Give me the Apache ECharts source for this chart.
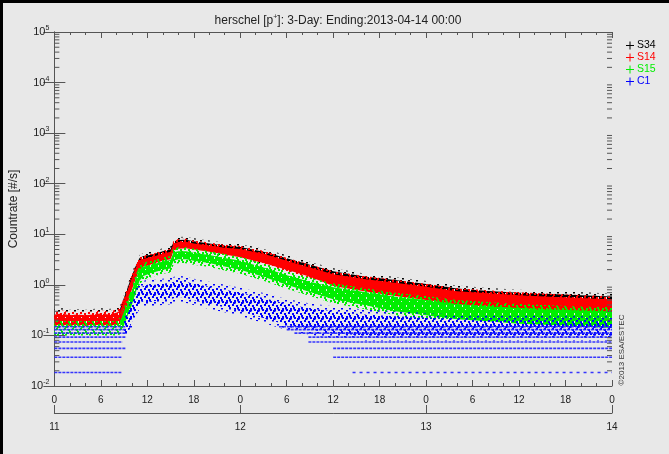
<!DOCTYPE html>
<html>
<head>
<meta charset="utf-8">
<script src="https://cdn.jsdelivr.net/npm/echarts@6/dist/echarts.min.js"></script>
<style>
html,body{margin:0;padding:0;background:#e8e8e8;}
#c{width:669px;height:454px;}
</style>
</head>
<body>
<div id="c"></div>
<script>
// ---- data (hours since 2013-04-11 00:00, count rates in #/s) ----
const hours = [0,1,2,3,4,5,6,7,8,8.5,9,9.5,10,10.5,11,11.5,12,13,14,15,15.4,16,17,18,20,22,24,27,30,33,36,40,44,48,52,56,60,64,68,72];
const s34Lo = [0.16,0.16,0.16,0.16,0.16,0.16,0.16,0.16,0.16,0.18,0.28,0.5,0.9,1.45,2.2,2.5,2.6,2.9,3.2,3.4,5.2,5.6,5.7,5.4,4.9,4.3,3.8,2.9,2.2,1.6,1.05,0.82,0.66,0.55,0.45,0.4,0.36,0.34,0.32,0.3];
const s34Hi = [0.29,0.30,0.28,0.29,0.28,0.29,0.30,0.29,0.30,0.34,0.56,0.92,1.5,2.35,3.4,3.7,3.8,4.1,4.6,5.0,7.2,7.7,7.8,7.3,6.6,6.0,5.6,4.5,3.35,2.5,1.85,1.47,1.25,1.04,0.85,0.76,0.7,0.66,0.62,0.59];
const s14Lo = [0.155,0.16,0.155,0.16,0.155,0.16,0.16,0.155,0.16,0.17,0.26,0.45,0.8,1.3,2.0,2.3,2.4,2.7,3.0,3.2,4.8,5.2,5.3,5.0,4.5,4.0,3.5,2.7,2.0,1.45,0.95,0.75,0.6,0.5,0.41,0.37,0.33,0.31,0.29,0.28];
const s14Hi = [0.26,0.27,0.25,0.26,0.25,0.26,0.27,0.26,0.28,0.31,0.5,0.83,1.37,2.15,3.1,3.3,3.4,3.7,4.1,4.5,6.6,7.0,7.1,6.6,6.0,5.4,5.1,4.1,3.0,2.2,1.62,1.3,1.1,0.92,0.75,0.68,0.62,0.58,0.55,0.52];
const s15Lo = [0.12,0.12,0.12,0.12,0.12,0.12,0.12,0.12,0.12,0.125,0.16,0.25,0.4,0.7,1.2,1.5,1.6,1.8,2.0,2.1,3.0,3.2,3.2,3.0,2.7,2.3,2.0,1.45,1.0,0.72,0.52,0.4,0.3,0.25,0.21,0.19,0.17,0.16,0.15,0.14];
const s15Hi = [0.16,0.16,0.16,0.16,0.16,0.16,0.16,0.16,0.16,0.19,0.3,0.45,0.75,1.3,2.0,2.3,2.4,2.6,2.9,3.1,4.4,4.6,4.6,4.3,3.9,3.4,3.0,2.2,1.55,1.15,0.9,0.72,0.58,0.5,0.42,0.38,0.35,0.33,0.31,0.3];
const c1Hours = [9,9.5,10,10.5,11,11.5,12,13,14,15,16,17,18,20,22,24,27,30,33,36,40,44,48,52,56,60,64,68,72];
const c1Lo = [0.1,0.12,0.18,0.3,0.42,0.48,0.45,0.48,0.5,0.52,0.58,0.55,0.5,0.42,0.36,0.3,0.22,0.16,0.13,0.11,0.1,0.1,0.1,0.1,0.1,0.1,0.1,0.1,0.1];
const c1Hi = [0.2,0.28,0.42,0.65,0.85,0.95,1.0,1.0,1.05,1.1,1.2,1.15,1.05,0.92,0.8,0.7,0.55,0.42,0.34,0.3,0.26,0.24,0.22,0.21,0.2,0.2,0.19,0.19,0.19];
// C1 quantised count levels (rows of points): value, start hour, end hour
const rowValue = [0.0185,0.037,0.0555,0.074,0.0925,0.111,0.13,0.148, 0.0185,0.037,0.0555,0.074,0.0925,0.111,0.13,0.148];
const rowStart = [0,0,0,0,0,0,0,0, 38.5,36,36,32.8,32.8,31,30,29];
const rowEnd   = [8.7,8.7,9.2,8.8,9.3,9.3,9.3,9.3, 72,72,72,72,72,72,72,72];
const quietEnd = 8.5; // end of the pre-event (quiet) interval, hours
const hourTicks = [0,6,12,18,0,6,12,18,0,6,12,18,0];
const dayLabels = ['11','12','13','14'];
const seriesNames = ['S34','S14','S15','C1'];

const chart = echarts.init(document.getElementById('c'));
const FONT = 'Liberation Sans, Arial, sans-serif';
const AX = '#555';
const colors = {S34:'#000000', S14:'#ff0000', S15:'#00ee00', C1:'#0000ff'};

// deterministic dot textures that imitate dense scatter
function texture(color, kind){
  const c = document.createElement('canvas');
  c.width = 8; c.height = 8;
  const g = c.getContext('2d');
  g.fillStyle = color;
  if(kind === 'dense'){
    g.fillRect(0,0,8,8);
    g.clearRect(1,5,2,2); g.clearRect(5,1,2,2);
  } else if(kind === 'medium'){
    [[0,0],[4,1],[2,4],[6,5],[1,6],[5,3]].forEach(p=>g.fillRect(p[0],p[1],2,2));
  } else {
    [[0,0],[5,4],[2,6]].forEach(p=>g.fillRect(p[0],p[1],2,1.5));
  }
  return {image:c, repeat:'repeat'};
}
function fillOf(color, kind){ return kind === 'solid' ? color : texture(color, kind); }

function band(name, hrs, lo, hi, coreKind, quietKind, fringeKind, fringePx, z){
  const color = colors[name];
  const coreFill = fillOf(color, coreKind);
  const quietFill = fillOf(color, quietKind);
  const fringeFill = texture(color, fringeKind);
  return {
    type:'custom', name:name, xAxisIndex:0, yAxisIndex:0, z:z, silent:true,
    itemStyle:{color:color},
    data: hrs.map((h,i)=>[h, lo[i], hi[i]]),
    encode:{x:0, y:[1,2]},
    clip:true,
    renderItem:function(params, api){
      if(params.dataIndex!==0) return null;
      const top=[], bot=[], ftop=[], fbot=[];
      for(let i=0;i<hrs.length;i++){
        const t = api.coord([hrs[i], hi[i]]);
        const b = api.coord([hrs[i], lo[i]]);
        top.push(t); bot.push(b);
        ftop.push([t[0], t[1]-fringePx]); fbot.push([b[0], b[1]+fringePx]);
      }
      let k = hrs.findIndex(h=>h>=quietEnd);
      if(k < 0) k = 0;
      const children = [
        {type:'polygon', shape:{points: ftop.concat(fbot.slice().reverse())}, style:{fill:fringeFill}},
        {type:'polygon', shape:{points: top.slice(k).concat(bot.slice(k).reverse())}, style:{fill:coreFill}}
      ];
      if(k > 0){
        children.push({type:'polygon', shape:{points: top.slice(0,k+1).concat(bot.slice(0,k+1).reverse())}, style:{fill:quietFill}});
      }
      return {type:'group', children:children};
    }
  };
}

const minorVals = [];
for(let k=-2;k<=4;k++){ for(let m=2;m<=9;m++){ minorVals.push([0, m*Math.pow(10,k)]); } }

const option = {
  backgroundColor:'#e8e8e8',
  animation:false,
  textStyle:{fontFamily:FONT},
  title:{
    text:'herschel [p{s|+}]: 3-Day: Ending:2013-04-14 00:00',
    left:333, top:9, textAlign:'center',
    textStyle:{fontSize:12, fontWeight:'normal', color:'#222', fontFamily:FONT,
      rich:{s:{fontSize:7, color:'#222', padding:[0,0,7,0], fontFamily:FONT}}}
  },
  legend:{
    orient:'vertical', left:621, top:35, itemGap:1, itemWidth:8, itemHeight:8,
    icon:'path://M3.5,0h1v3.5h3.5v1h-3.5v3.5h-1v-3.5h-3.5v-1h3.5z',
    selectedMode:false,
    textStyle:{fontSize:10.5, fontFamily:FONT, padding:[0,0,0,-2]},
    data: seriesNames.map(n=>({name:n, textStyle:{color:colors[n]}}))
  },
  grid:{left:54, right:57, top:32, bottom:68, containLabel:false},
  xAxis:[
    {type:'value', min:0, max:72, interval:6, position:'bottom',
     axisLine:{show:true, lineStyle:{color:AX}},
     axisTick:{show:true, inside:true, length:6, lineStyle:{color:AX}},
     minorTick:{show:true, splitNumber:3, length:3, lineStyle:{color:AX}},
     splitLine:{show:false},
     axisLabel:{fontSize:10, color:'#222', margin:9, formatter:function(v){return String(hourTicks[Math.round(v/6)]);}}},
    {type:'value', min:0, max:72, interval:6, position:'top',
     axisLine:{show:true, lineStyle:{color:AX}},
     axisTick:{show:true, inside:true, length:6, lineStyle:{color:AX}},
     minorTick:{show:true, splitNumber:3, length:3, lineStyle:{color:AX}},
     splitLine:{show:false}, axisLabel:{show:false}},
    {type:'value', min:0, max:72, interval:24, position:'bottom', offset:27,
     axisLine:{show:true, lineStyle:{color:AX}},
     axisTick:{show:true, inside:true, length:8, lineStyle:{color:AX}},
     splitLine:{show:false},
     axisLabel:{fontSize:10, color:'#222', margin:9, formatter:function(v){return dayLabels[Math.round(v/24)];}}}
  ],
  yAxis:[
    {type:'log', logBase:10, min:0.01, max:100000, splitNumber:7, position:'left',
     name:'Countrate [#/s]', nameLocation:'middle', nameGap:29, nameRotate:90,
     nameTextStyle:{fontSize:12, color:'#222', fontFamily:FONT},
     axisLine:{show:true, lineStyle:{color:AX}},
     axisTick:{show:true, inside:true, length:11, lineStyle:{color:AX}},
     splitLine:{show:false},
     axisLabel:{margin:5, color:'#222', fontSize:11,
       formatter:function(v){return '10{s|'+Math.round(Math.log10(v))+'}';},
       rich:{s:{fontSize:7, color:'#222', padding:[0,0,8,0]}}}},
    {type:'log', logBase:10, min:0.01, max:100000, splitNumber:7, position:'right',
     axisLine:{show:true, lineStyle:{color:AX}},
     axisTick:{show:true, inside:true, length:11, lineStyle:{color:AX}},
     splitLine:{show:false}, axisLabel:{show:false}}
  ],
  graphic:[
    {type:'rect', shape:{x:0,y:0,width:669,height:3}, style:{fill:'#000'}, z:100},
    {type:'rect', shape:{x:0,y:0,width:3,height:454}, style:{fill:'#000'}, z:100},
    {type:'text', x:622, y:350, rotation:Math.PI/2,
     style:{text:'\u00a92013 ESA/ESTEC', fontSize:8, fill:'#333', fontFamily:FONT, align:'center', verticalAlign:'middle'}}
  ],
  series:[
    band('S34', hours, s34Lo, s34Hi, 'dense', 'sparse', 'sparse', 3, 2),
    band('S14', hours, s14Lo, s14Hi, 'solid', 'dense', 'medium', 3, 3),
    band('S15', hours, s15Lo, s15Hi, 'dense', 'medium', 'medium', 4, 4),
    band('C1', c1Hours, c1Lo, c1Hi, 'medium', 'medium', 'sparse', 5, 5),
    {type:'custom', name:'C1rows', xAxisIndex:0, yAxisIndex:0, z:6, silent:true,
     data: rowValue.map((v,i)=>[rowStart[i], v, rowEnd[i]]),
     encode:{x:[0,2], y:1},
     renderItem:function(params, api){
       const a = api.coord([api.value(0), api.value(1)]);
       const b = api.coord([api.value(2), api.value(1)]);
       const sparse = api.value(1) < 0.02 && api.value(0) > 20;
       return {type:'line', shape:{x1:a[0], y1:a[1], x2:b[0], y2:b[1]},
         style:{stroke:'#2222ff', lineWidth:1.6, lineDash: sparse ? [3,4] : [3,1], opacity:0.9}};
     }},
    {type:'custom', name:'minor', xAxisIndex:0, yAxisIndex:0, z:7, silent:true,
     data: minorVals, encode:{x:0, y:1},
     renderItem:function(params, api){
       const p = api.coord([0, api.value(1)]);
       const q = api.coord([72, api.value(1)]);
       return {type:'group', children:[
         {type:'line', shape:{x1:p[0], y1:p[1], x2:p[0]+5, y2:p[1]}, style:{stroke:AX, lineWidth:1}},
         {type:'line', shape:{x1:q[0], y1:q[1], x2:q[0]-5, y2:q[1]}, style:{stroke:AX, lineWidth:1}}
       ]};
     }}
  ]
};
chart.setOption(option);
</script>
</body>
</html>
